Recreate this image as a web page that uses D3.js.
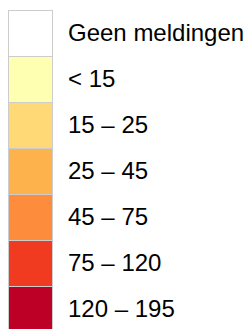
<!DOCTYPE html>
<html>
<head>
<meta charset="utf-8">
<script src="https://cdn.jsdelivr.net/npm/d3@7"></script>
<style>
  html, body { margin: 0; padding: 0; background: #fff; overflow: hidden; }
</style>
</head>
<body>
<div id="legend"></div>
<script>
// Legend classes (meldingen per klasse)
const labels = ['Geen meldingen', '< 15', '15 \u2013 25', '25 \u2013 45', '45 \u2013 75', '75 \u2013 120', '120 \u2013 195'];
const colors = ['#ffffff', '#ffffb2', '#fed976', '#feb24c', '#fd8d3c', '#f03b20', '#bd0026'];

function renderLegend(containerId) {
    const container = d3.select(`#${containerId}`);
    container.selectAll('*').remove();

    const width = 249;
    const height = 329;

    const svg = container
        .append('svg')
        .attr('width', width)
        .attr('height', height);

    const y = d3.scaleBand()
        .domain(labels)
        .range([10, 10 + labels.length * 46])
        .padding(0);

    const color = d3.scaleOrdinal()
        .domain(labels)
        .range(colors);

    const rows = svg.selectAll('.row')
        .data(labels)
        .enter()
        .append('g')
        .attr('class', 'row');

    // Swatches
    rows.append('rect')
        .attr('x', 8.5)
        .attr('y', d => y(d) + 0.5)
        .attr('width', 44)
        .attr('height', y.bandwidth())
        .attr('fill', d => color(d))
        .attr('stroke', '#cccccc')
        .attr('stroke-width', 1);

    // Labels
    rows.append('text')
        .attr('x', 68)
        .attr('y', d => y(d) + y.bandwidth() / 2)
        .attr('dy', '0.35em')
        .style('font-family', '"Liberation Sans", Arial, sans-serif')
        .style('font-size', '24px')
        .attr('fill', '#000')
        .text(d => d);
}

renderLegend('legend');
</script>
</body>
</html>
